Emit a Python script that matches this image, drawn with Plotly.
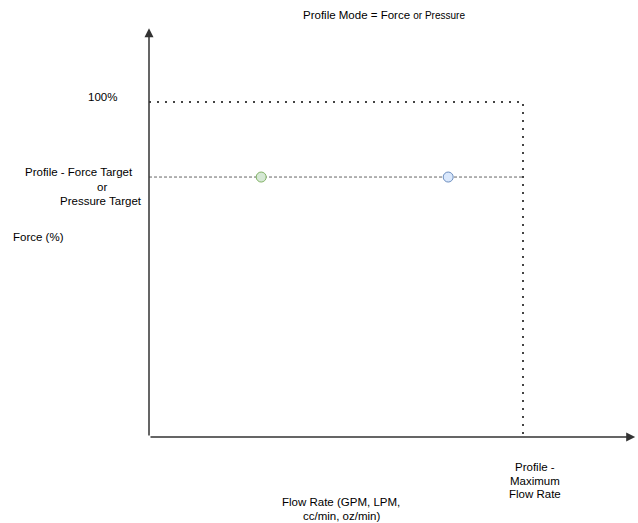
import plotly.graph_objects as go

# ---- data ----
max_force = 100          # Force (%) at the "100%" line
target_force = 77.6      # Profile - Force Target (%)
max_flow = 100           # Profile - Maximum Flow Rate (relative units)
point_flows = [30, 80]   # marker positions along target line
point_fills = ["#d5e8d4", "#dae8fc"]
point_lines = ["#82b366", "#6c8ebf"]
y_axis_top = 122
x_axis_end = 130

# axis ranges (pixel mapping: x px = 149 + 3.74*v, y px = 437 - 3.35*v)
x_range = [-149 / 3.74, (638 - 149) / 3.74]
y_range = [-(523 - 437) / 3.35, 437 / 3.35]

fig = go.Figure()

# 100% dotted line and max-flow vertical
fig.add_trace(go.Scatter(
    x=[0, max_flow, max_flow], y=[max_force, max_force, 0],
    mode="lines", line=dict(color="#444444", width=2, dash="2px,6px"),
    hoverinfo="skip", showlegend=False))

# target dashed line
fig.add_trace(go.Scatter(
    x=[0, max_flow], y=[target_force, target_force],
    mode="lines", line=dict(color="#666666", width=1, dash="3px,2px"),
    hoverinfo="skip", showlegend=False))

# markers
fig.add_trace(go.Scatter(
    x=point_flows, y=[target_force] * len(point_flows),
    mode="markers",
    marker=dict(size=10, color=point_fills, line=dict(color=point_lines, width=1)),
    hoverinfo="skip", showlegend=False))

# axes with arrows
fig.add_annotation(x=0, y=y_axis_top, ax=0, ay=0, xref="x", yref="y",
                   axref="x", ayref="y", showarrow=True, arrowhead=2,
                   arrowsize=1.2, arrowwidth=1.5, arrowcolor="#333333", text="")
fig.add_annotation(x=x_axis_end, y=0, ax=0, ay=0, xref="x", yref="y",
                   axref="x", ayref="y", showarrow=True, arrowhead=2,
                   arrowsize=1.2, arrowwidth=1.5, arrowcolor="#333333", text="")

font = dict(family="Liberation Sans, Arial, sans-serif", size=11.5, color="#000000")

def label(text, px, py, align="center", xanchor="center"):
    fig.add_annotation(x=px / 638, y=1 - py / 523, xref="paper", yref="paper",
                       text=text, showarrow=False, font=font, align=align,
                       xanchor=xanchor, yanchor="middle")

label("Profile Mode = Force <span style='font-size:10px'>or Pressure</span>", 384, 15)
label("100%", 102, 97)
label("Profile - Force Target", 79, 172)
label("or", 102, 187)
label("Pressure Target", 101, 201)
label("Force (%)", 11, 237, xanchor="left")
label("Profile -", 535, 467)
label("Maximum", 535, 481)
label("Flow Rate", 535, 494)
label("Flow Rate (GPM, LPM,", 341, 502)
label("cc/min, oz/min)", 341, 516)

fig.update_xaxes(range=x_range, visible=False, fixedrange=True)
fig.update_yaxes(range=y_range, visible=False, fixedrange=True)
fig.update_layout(width=638, height=523, margin=dict(l=0, r=0, t=0, b=0),
                  plot_bgcolor="white", paper_bgcolor="white")

fig.write_html("out.html", config={"displayModeBar": False},
               post_script="document.body.style.margin='0';document.body.style.overflow='hidden';")
